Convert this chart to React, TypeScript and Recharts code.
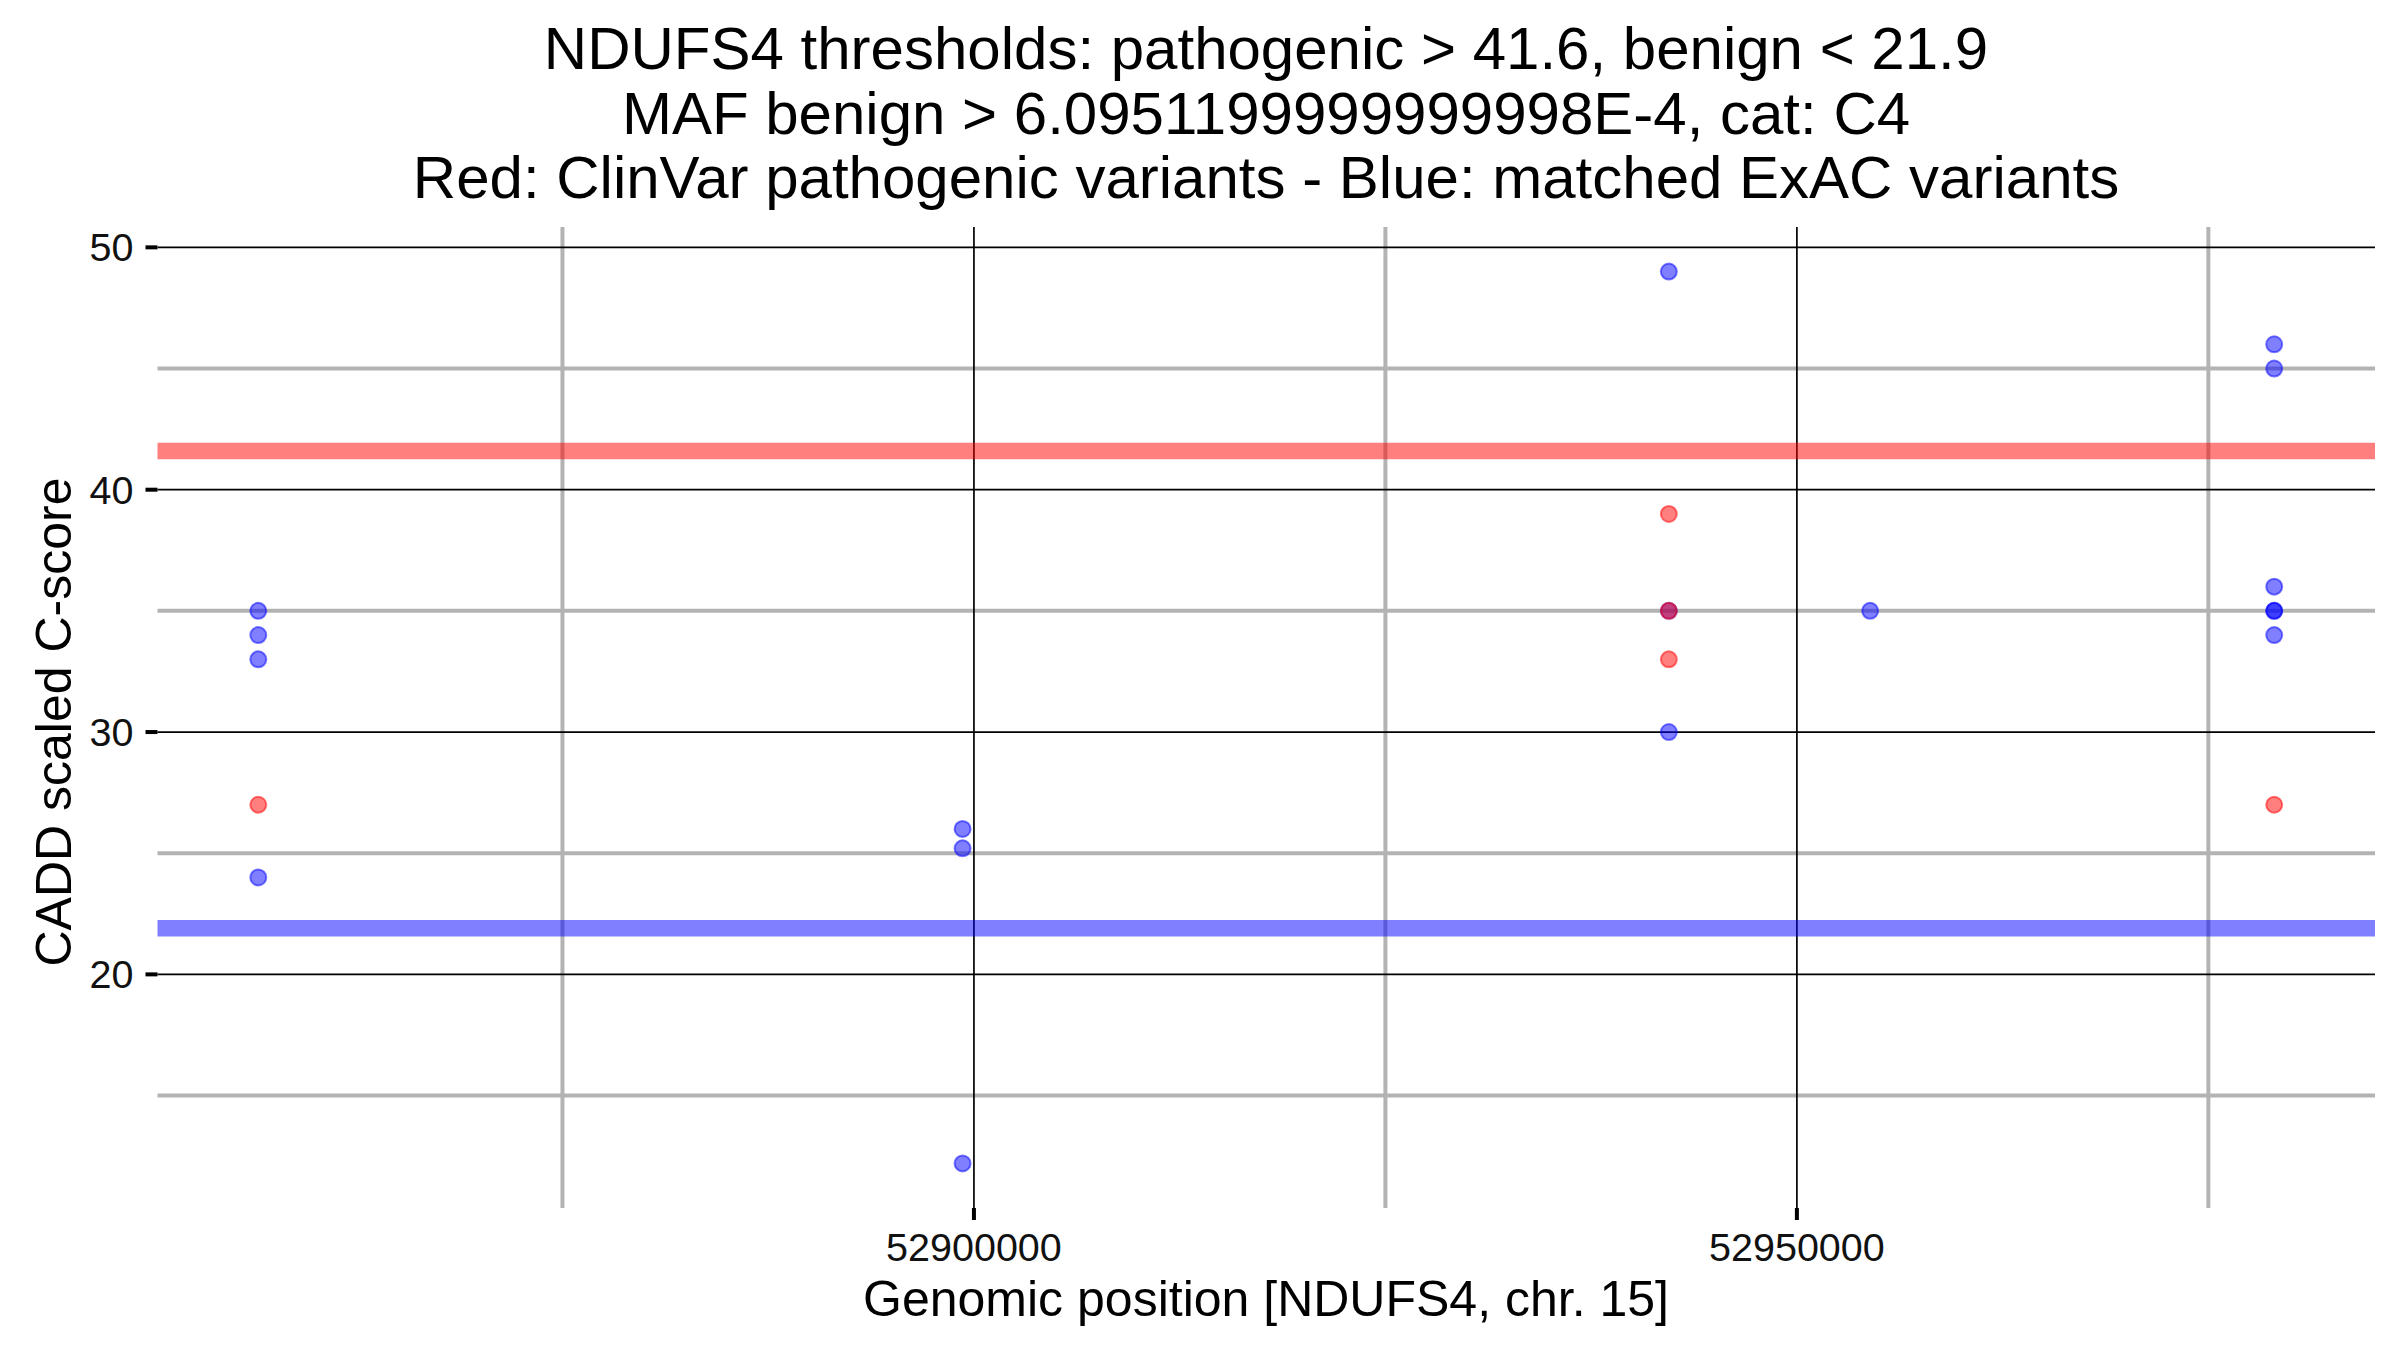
import React from 'react';
import { ScatterChart, Scatter, XAxis, YAxis, ReferenceLine } from 'recharts';

// ---- data ----
const clinvarPos = [52856520, 52942220, 52942220, 52942220, 52979000];
const clinvarScore = [27, 39, 35, 33, 27];

const exacPos = [
  52856520, 52856520, 52856520, 52856520,
  52899310, 52899310, 52899310,
  52942220, 52942220, 52942220,
  52954450,
  52979000, 52979000, 52979000, 52979000, 52979000, 52979000,
];
const exacScore = [
  35, 34, 33, 24,
  26, 25.2, 12.2,
  49, 35, 30,
  35,
  46, 45, 36, 35, 35, 34,
];

const xTicks = [52900000, 52950000];
const xMinorTicks = [52875000, 52925000, 52975000];
const yTicks = [20, 30, 40, 50];
const yMinorTicks = [15, 25, 35, 45];

const pathogenicThreshold = 41.6;
const benignThreshold = 21.9;

const titleLines = [
  'NDUFS4 thresholds: pathogenic > 41.6, benign < 21.9',
  'MAF benign > 6.0951199999999998E-4, cat: C4',
  'Red: ClinVar pathogenic variants - Blue: matched ExAC variants',
];
const xLabel = 'Genomic position [NDUFS4, chr. 15]';
const yLabel = 'CADD scaled C-score';

// ---- derived ----
const clinvarData = clinvarPos.map((x, i) => ({ x, y: clinvarScore[i] }));
const exacData = exacPos.map((x, i) => ({ x, y: exacScore[i] }));

const expand = (vals: number[]): [number, number] => {
  const mn = Math.min(...vals);
  const mx = Math.max(...vals);
  const pad = (mx - mn) * 0.05;
  return [mn - pad, mx + pad];
};
const xDomain = expand([...clinvarPos, ...exacPos]);
const yDomain = expand([...clinvarScore, ...exacScore]);

const FONT = '"Liberation Sans", Arial, Helvetica, sans-serif';

const makeDot = (color: string) => (props: any) => (
  <circle
    cx={props.cx}
    cy={props.cy}
    r={8}
    fill={color}
    fillOpacity={0.5}
    stroke={color}
    strokeOpacity={0.5}
    strokeWidth={2}
  />
);

const W = 2400;
const H = 1350;
const CX = 1266;

export default function App() {
  return (
    <div style={{ position: 'absolute', left: 0, top: 0, width: W, height: H, background: '#fff' }}>
      <ScatterChart
        width={W}
        height={H}
        margin={{ top: 227, right: 25, bottom: 82, left: 0 }}
      >
        <XAxis
          type="number"
          dataKey="x"
          domain={xDomain}
          ticks={xTicks}
          allowDataOverflow
          axisLine={false}
          tickSize={12}
          tickMargin={13}
          tickLine={{ stroke: '#000', strokeWidth: 4 }}
          tick={{ fill: '#111', fontSize: 39.5, fontFamily: FONT }}
          height={60}
          interval={0}
        />
        <YAxis
          type="number"
          dataKey="y"
          domain={yDomain}
          ticks={yTicks}
          allowDataOverflow
          axisLine={false}
          tickSize={12}
          tickMargin={12}
          tickLine={{ stroke: '#000', strokeWidth: 4 }}
          tick={{ fill: '#111', fontSize: 39.5, fontFamily: FONT }}
          width={157.5}
          interval={0}
        />
        {yMinorTicks.map((v) => (
          <ReferenceLine key={'ym' + v} y={v} stroke="#b3b3b3" strokeWidth={4} />
        ))}
        {xMinorTicks.map((v) => (
          <ReferenceLine key={'xm' + v} x={v} stroke="#b3b3b3" strokeWidth={4} />
        ))}
        {yTicks.map((v) => (
          <ReferenceLine key={'yM' + v} y={v} stroke="#000" strokeWidth={1.7} />
        ))}
        {xTicks.map((v) => (
          <ReferenceLine key={'xM' + v} x={v} stroke="#000" strokeWidth={1.7} />
        ))}
        <ReferenceLine y={pathogenicThreshold} stroke="#ff0000" strokeOpacity={0.5} strokeWidth={16.5} />
        <ReferenceLine y={benignThreshold} stroke="#0000ff" strokeOpacity={0.5} strokeWidth={16.5} />
        <Scatter data={exacData} shape={makeDot('#0000ff')} isAnimationActive={false} />
        <Scatter data={clinvarData} shape={makeDot('#ff0000')} isAnimationActive={false} />
      </ScatterChart>
      <svg
        width={W}
        height={H}
        style={{ position: 'absolute', left: 0, top: 0, pointerEvents: 'none' }}
      >
        {titleLines.map((t, i) => (
          <text
            key={i}
            x={CX}
            y={69 + i * 64.5}
            textAnchor="middle"
            fontSize={60}
            fontFamily={FONT}
            fill="#000"
          >
            {t}
          </text>
        ))}
        <text x={CX} y={1316} textAnchor="middle" fontSize={50} fontFamily={FONT} fill="#000">
          {xLabel}
        </text>
        <text
          x={0}
          y={0}
          transform="translate(71,722) rotate(-90)"
          textAnchor="middle"
          fontSize={50}
          fontFamily={FONT}
          fill="#000"
        >
          {yLabel}
        </text>
      </svg>
    </div>
  );
}
